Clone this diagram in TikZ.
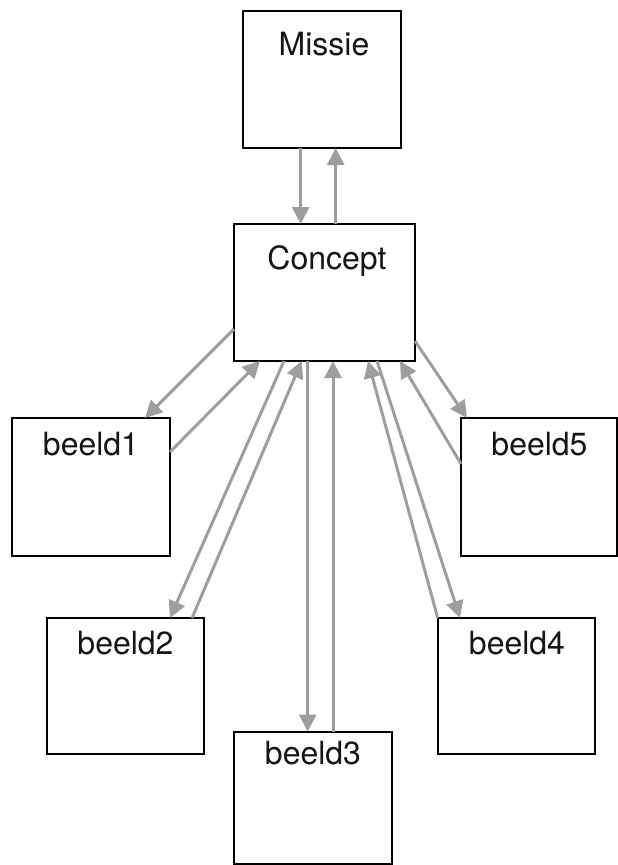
\documentclass[tikz,border=0pt]{standalone}
\usepackage{fontspec}
\setmainfont{TeX Gyre Heros}
\usetikzlibrary{arrows.meta,calc}
\definecolor{arrgray}{HTML}{9E9E9E}
\definecolor{txtblack}{HTML}{151515}
\begin{document}
\begin{tikzpicture}[x=1pt,y=-1pt,
  box/.style={draw=black,line width=2pt,fill=white,inner sep=0pt,outer sep=0pt,minimum width=#1},
  box/.default=158pt,
  lbl/.style={anchor=base,inner sep=0pt,text=txtblack,font=\fontsize{32}{36}\selectfont},
  arr/.style={draw=arrgray,line width=3pt,-{Triangle[length=17pt,width=17pt]}}]
\useasboundingbox (0,0) rectangle (618,865);
% boxes
\node[box,minimum height=137pt] (missie) at (322,79.5) {};
\node[box=181pt,minimum height=137pt] (concept) at (324.5,292.5) {};
\node[box,minimum height=138pt] (b1) at (91,487) {};
\node[box=156pt,minimum height=138pt] (b5) at (539,487) {};
\node[box=157pt,minimum height=136pt] (b2) at (125.5,686) {};
\node[box=157pt,minimum height=136pt] (b4) at (516.5,686) {};
\node[box,minimum height=132pt] (b3) at (313,797.6) {};
% labels
\node[lbl] (missiet) at ($(missie.north)+(2,44)$) {Missie};
\node[lbl] (conceptt) at ($(concept.north)+(2.5,45)$) {Concept};
\node[lbl] (b1t) at ($(b1.north)+(0,37)$) {beeld1};
\node[lbl] (b5t) at ($(b5.north)+(0.5,37)$) {beeld5};
\node[lbl] (b2t) at ($(b2.north)+(0,36)$) {beeld2};
\node[lbl] (b4t) at ($(b4.north)+(0.5,36)$) {beeld4};
\node[lbl] (b3t) at ($(b3.north)+(0,32.5)$) {beeld3};
% connectors
\draw[arr] ($(missie.south)+(-21.3,0)$) -- ($(concept.north)+(-23.8,0)$);
\draw[arr] ($(concept.north)+(11.2,0)$) -- ($(missie.south)+(13.7,0)$);
\draw[arr] ($(concept.north west)+(0,105)$) -- ($(b1.north west)+(133,0)$);
\draw[arr] ($(b1.north east)+(0,34)$) -- ($(concept.south west)+(26,0)$);
\draw[arr] ($(concept.south west)+(50,0)$) -- ($(b2.north west)+(123,0)$);
\draw[arr] ($(b2.north west)+(145,0)$) -- ($(concept.south west)+(67.7,0)$);
\draw[arr] ($(concept.south west)+(73.7,0)$) -- ($(b3.north west)+(73.7,0)$);
\draw[arr] ($(b3.north west)+(99,0)$) -- ($(concept.south west)+(99,0)$);
\draw[arr] ($(b4.north west)+(-0.3,0)$) -- ($(concept.south west)+(134,0)$);
\draw[arr] ($(concept.south west)+(143,0)$) -- ($(b4.north west)+(22,0)$);
\draw[arr] ($(b5.north west)+(0,46)$) -- ($(concept.south west)+(166,0)$);
\draw[arr] ($(concept.north east)+(0,117)$) -- ($(b5.north west)+(6,0)$);
\end{tikzpicture}
\end{document}
